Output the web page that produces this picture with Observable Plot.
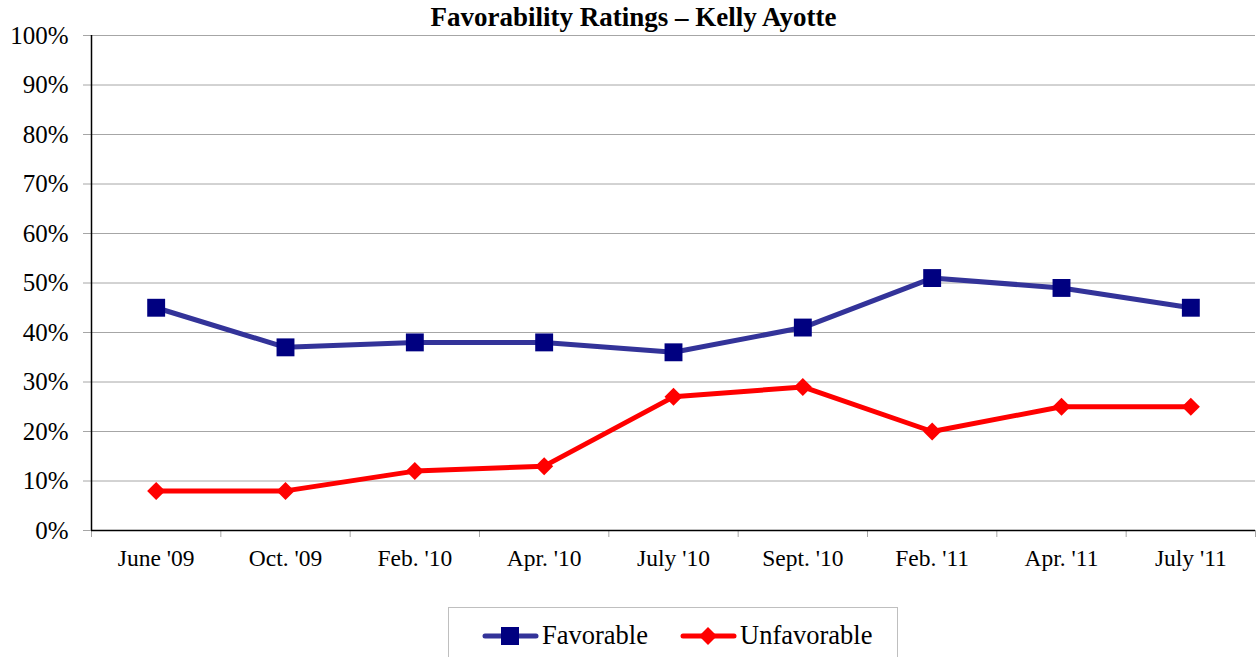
<!DOCTYPE html>
<html><head><meta charset="utf-8">
<script src="https://cdn.jsdelivr.net/npm/d3@7"></script>
<script src="https://cdn.jsdelivr.net/npm/@observablehq/plot@0.6"></script>
<style>
body{margin:0;background:#fff;}
#wrap{position:relative;width:1257px;height:657px;overflow:hidden;font-family:"Liberation Serif","Times New Roman",serif;color:#000;}
#chart{position:absolute;top:0;left:0;}
#title{position:absolute;top:4px;left:0;width:1267px;text-align:center;font-weight:bold;font-size:27px;line-height:1;z-index:2;}
#legend{position:absolute;left:448px;top:607px;width:450px;height:70px;border:1px solid #BFBFBF;box-sizing:border-box;}
.item{position:absolute;top:12px;display:flex;align-items:center;font-size:26.5px;}
.item svg{display:block;margin-right:3px;}
</style></head>
<body>
<div id="wrap">
  <div id="title">Favorability Ratings – Kelly Ayotte</div>
  <div id="chart"></div>
  <div id="legend"></div>
</div>
<script>
const categories = ["June '09","Oct. '09","Feb. '10","Apr. '10","July '10","Sept. '10","Feb. '11","Apr. '11","July '11"];
const favorable = [45,37,38,38,36,41,51,49,45];
const unfavorable = [8,8,12,13,27,29,20,25,25];
const yTicks = [0,10,20,30,40,50,60,70,80,90,100];
const seriesNames = ["Favorable","Unfavorable"];
const lineColors = ["#333399","#FF0000"];
const markerColors = ["#000080","#FF0000"];

const n = categories.length;
const favData = categories.map((c,i)=>({i, v: favorable[i]/100}));
const unfData = categories.map((c,i)=>({i, v: unfavorable[i]/100}));
const diamond = {draw(ctx,size){const r=Math.sqrt(size/2);ctx.moveTo(0,-r);ctx.lineTo(r,0);ctx.lineTo(0,r);ctx.lineTo(-r,0);ctx.closePath();}};
const bounds = d3.range(n+1).map(i=>i-0.5);

const chart = Plot.plot({
  width: 1257, height: 600,
  marginLeft: 91, marginRight: 2, marginTop: 35, marginBottom: 70,
  style: {fontFamily: '"Liberation Serif","Times New Roman",serif', background: "transparent", overflow: "visible"},
  x: {type: "linear", domain: [-0.5, n-0.5], label: null},
  y: {domain: [0, 1], label: null},
  marks: [
    Plot.gridY(yTicks.map(d=>d/100), {stroke: "#A6A6A6", strokeOpacity: 1}),
    Plot.axisY(yTicks.map(d=>d/100), {tickFormat: d3.format(".0%"), tickSize: 8, tickPadding: 15, fontSize: 25, stroke: "#A6A6A6", fill: "#000"}),
    Plot.axisX(d3.range(n), {tickFormat: i=>categories[i], tickSize: 0, tickPadding: 19, fontSize: 23.5, fill: "#000"}),
    Plot.axisX(bounds, {tickFormat: ()=>"", tickSize: 7, stroke: "#A6A6A6"}),
    Plot.ruleX([-0.5], {stroke: "#000", strokeWidth: 1.5}),
    Plot.ruleY([0], {stroke: "#000", strokeWidth: 1.5}),
    Plot.line(favData, {x: "i", y: "v", stroke: lineColors[0], strokeWidth: 5}),
    Plot.line(unfData, {x: "i", y: "v", stroke: lineColors[1], strokeWidth: 5}),
    Plot.dot(favData, {x: "i", y: "v", symbol: "square", r: 10.1, fill: markerColors[0], stroke: "none"}),
    Plot.dot(unfData, {x: "i", y: "v", symbol: diamond, r: 7.2, fill: markerColors[1], stroke: "none"})
  ]
});
document.getElementById("chart").appendChild(chart);

const legend = document.getElementById("legend");
const lefts = [33, 231];
seriesNames.forEach((name, k) => {
  const item = document.createElement("div");
  item.className = "item";
  item.style.left = lefts[k] + "px";
  const marker = k === 0
    ? `<rect x="19" y="3" width="18" height="18" fill="${markerColors[0]}"/>`
    : `<path d="M28,3 L37,12 L28,21 L19,12 Z" fill="${markerColors[1]}"/>`;
  item.innerHTML = `<svg width="57" height="24"><line x1="3" y1="12" x2="54" y2="12" stroke="${lineColors[k]}" stroke-width="5" stroke-linecap="round"/>${marker}</svg><span>${name}</span>`;
  legend.appendChild(item);
});
</script>
</body></html>
